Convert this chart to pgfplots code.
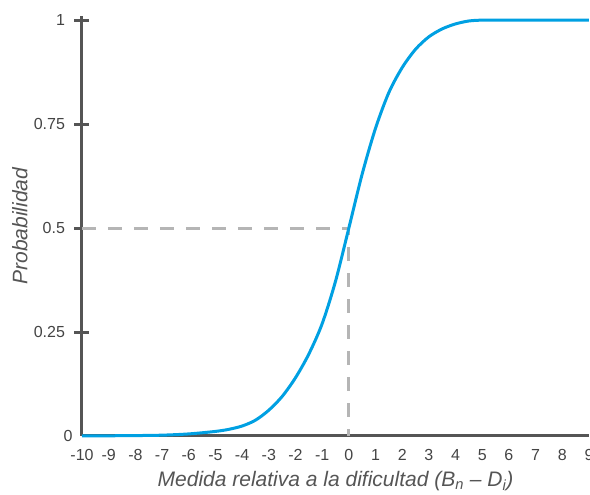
\documentclass[border=0pt]{standalone}
\usepackage{pgfplots}
\pgfplotsset{compat=1.18}
\usepackage{fontspec}
\setmainfont{Liberation Sans}
\definecolor{axisgray}{HTML}{555555}
\definecolor{curveblue}{HTML}{00A0E2}
\definecolor{dashgray}{HTML}{B5B5B5}
\definecolor{textgray}{HTML}{444444}
\definecolor{labelgray}{HTML}{555555}
\begin{document}
\begin{tikzpicture}
\useasboundingbox (-82pt,-59pt) rectangle (508pt,436pt);
\begin{axis}[
  at={(0,0)}, anchor=south west,
  scale only axis, width=507pt, height=420pt,
  xmin=-10, xmax=9, ymin=0, ymax=1.01,
  clip=false,
  axis lines=left,
  axis line style={axisgray, line width=3pt, -},
  xtick={-10,-9,-8,-7,-6,-5,-4,-3,-2,-1,0,1,2,3,4,5,6,7,8,9},
  xticklabels={-10,-9,-8,-7,-6,-5,-4,-3,-2,-1,0,1,2,3,4,5,6,7,8,9},
  ytick={0.25,0.5,0.75,1},
  yticklabels={0.25,0.5,0.75,1},
  extra y ticks={0},
  extra y tick labels={0},
  extra y tick style={major tick length=0pt},
  x tick style={draw=none},
  y tick style={axisgray, line width=3pt},
  major tick length=15pt,
  tick align=center,
  ticklabel style={font=\fontsize{16}{18}\selectfont, text=textgray},
  xticklabel style={anchor=north, yshift=-2pt},
  yticklabel style={anchor=east, xshift=-6pt},
  xlabel={\itshape Medida relativa a la dificultad (B\textsubscript{n} – D\textsubscript{i})},
  ylabel={\itshape Probabilidad},
  label style={font=\fontsize{21}{24}\selectfont, text=labelgray},
  xlabel style={at={(axis description cs:0.5,-0.121)}, anchor=base},
  ylabel style={at={(axis description cs:-0.1223,0.5)}, anchor=center, rotate=0},
]
\addplot[dashgray, line width=3pt, dash pattern=on 14pt off 12pt] coordinates {(-10,0.5) (0,0.5) (0,0)};
\addplot[curveblue, line width=3pt, smooth] coordinates {
(-10,0.0003) (-9,0.0005) (-8,0.001) (-7,0.002) (-6,0.005) (-5,0.011) (-4.5,0.016)
(-4,0.024) (-3.5,0.038) (-3,0.062) (-2.5,0.095) (-2,0.14) (-1.5,0.197) (-1,0.27)
(-0.5,0.372) (0,0.5) (0.5,0.63) (1,0.74) (1.5,0.826) (2,0.886) (2.5,0.93) (3,0.96)
(3.5,0.979) (4,0.991) (4.5,0.998) (5,1.0) (6,1) (7,1) (8,1) (9,1)};
\end{axis}
\end{tikzpicture}
\end{document}
